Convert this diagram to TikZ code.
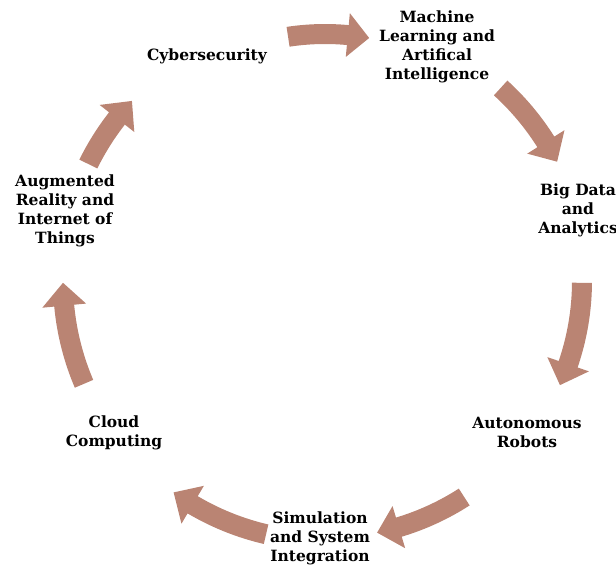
\documentclass[tikz,border=0pt]{standalone}
\usepackage{fontspec}
\setmainfont{DejaVu Serif}
\definecolor{cyclebrown}{RGB}{186, 132, 115}
\usetikzlibrary{calc}

\begin{document}
\begin{tikzpicture}[x=1pt, y=1pt,
  stage/.style={align=center, inner sep=0pt, font=\bfseries\fontsize{15.5}{19}\selectfont}]
  \useasboundingbox (0,0) rectangle (616,568);
  \coordinate (hub) at (325,287);

  % stages round the cycle
  \node[stage] (cyber) at (207,512) {Cybersecurity};
  \node[stage] (ml) at (437,521.5) {Machine\\Learning and\\Artifical\\Intelligence};
  \node[stage] (bigdata) at (578,358) {Big Data\\and\\Analytics};
  \node[stage] (robots) at (527,135.5) {Autonomous\\Robots};
  \node[stage] (sim) at (320,29.5) {Simulation\\and System\\Integration};
  \node[stage] (cloud) at (114,135.5) {Cloud\\Computing};
  \node[stage] (arvr) at (65,357.5) {Augmented\\Reality and\\Internet of\\Things};

  % curved block arrows, tail angle / tip angle / radius
  \foreach \from/\to/\rad in {98.6/79.7/247, 47.7/27.2/261, -0.4/-23.9/257,
      -57.2/-78.3/257, -103.1/-125.6/260, 203.1/180.4/262, 153.7/137.0/264}
    \fill[cyclebrown, shift={(hub)}] (\from:\rad+10)
      arc[start angle=\from, end angle=\to+5, radius=\rad+10]
      -- (\to+5:\rad+22) -- (\to:\rad) -- (\to+5:\rad-22) -- (\to+5:\rad-10)
      arc[start angle=\to+5, end angle=\from, radius=\rad-10] -- cycle;
\end{tikzpicture}
\end{document}
